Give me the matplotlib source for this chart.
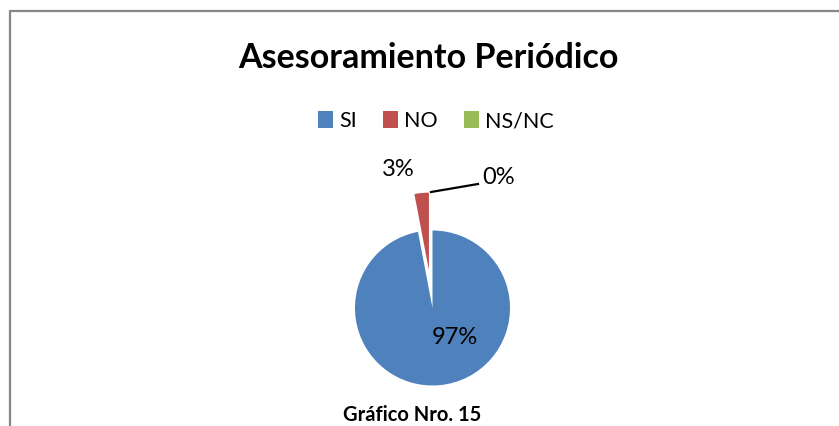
import matplotlib.pyplot as plt
from matplotlib.patches import Rectangle

categories = ["SI", "NO", "NS/NC"]
values = [97, 3, 0]
colors = ["#4F81BD", "#C0504D", "#9BBB59"]
explode = [0, 38, 0]  # offset of each slice, in axis units (pixels)

W, H = 839, 426

plt.rcParams["font.family"] = ["Lato", "DejaVu Sans"]

fig = plt.figure(figsize=(W / 100, H / 100), dpi=100)
fig.patch.set_facecolor("white")

# pixel-like coordinates, y measured from the bottom
ax = fig.add_axes([0, 0, 1, 1])

wedges, _ = ax.pie(
    values,
    colors=colors,
    startangle=90,
    counterclock=False,
    explode=explode,
    center=(432.5, H - 308),
    radius=77.5,
    frame=True,
)
ax.set_xlim(0, W)
ax.set_ylim(0, H)
ax.set_aspect("equal")
ax.axis("off")

# chart frame (bottom and right edges run off the picture)
ax.add_patch(Rectangle((10, -20), W + 20, H - 11 + 20, fill=False,
                       edgecolor="#868686", linewidth=1.6))

total = sum(values)
pct = [f"{v / total * 100:.0f}%" for v in values]

ax.text(455, H - 337, pct[0], fontsize=17, ha="center", va="center")
ax.text(398, H - 169, pct[1], fontsize=17, ha="center", va="center")
ax.plot([431, 478], [H - 192, H - 184], color="black", linewidth=1.6)
ax.text(482, H - 178, pct[2], fontsize=17, ha="left", va="center")

fig.text(428 / W, 1 - 58 / H, "Asesoramiento Periódico", fontsize=24.5,
         fontweight="bold", ha="center", va="center")

fig.legend(wedges, categories, loc="center", bbox_to_anchor=(436 / W, 1 - 121 / H),
           ncol=3, frameon=False, fontsize=15.5, handlelength=0.7,
           handleheight=0.8, handletextpad=0.3, columnspacing=1.2)

fig.text(412 / W, 1 - 425 / H, "Gráfico Nro. 15", fontsize=14.5,
         fontweight="bold", ha="center", va="bottom")

plt.savefig("out.png", dpi=100)
